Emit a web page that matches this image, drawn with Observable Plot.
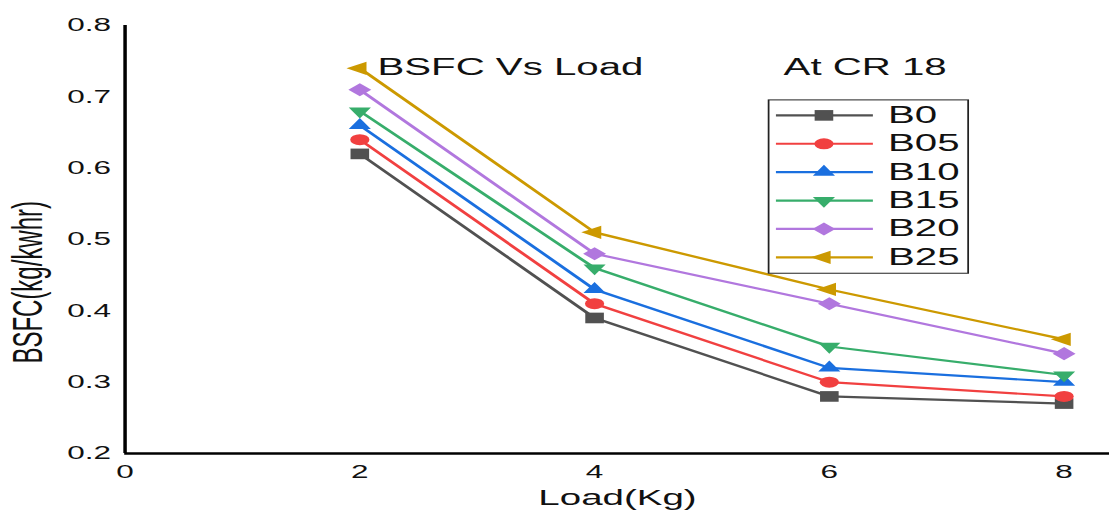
<!DOCTYPE html>
<html><head><meta charset="utf-8">
<script src="https://cdn.jsdelivr.net/npm/d3@7"></script>
<script src="https://cdn.jsdelivr.net/npm/@observablehq/plot@0.6"></script>
<style>
html,body{margin:0;padding:0;background:#fff;}
#chart{width:1109px;height:515px;overflow:hidden;}
</style>
</head><body><div id="chart"></div>
<script>
// ---- data ----
const loads = [2, 4, 6, 8];
const seriesNames = ["B0", "B05", "B10", "B15", "B20", "B25"];
const B0  = [0.62, 0.39, 0.28, 0.27];
const B05 = [0.64, 0.41, 0.30, 0.28];
const B10 = [0.66, 0.43, 0.32, 0.30];
const B15 = [0.68, 0.46, 0.35, 0.31];
const B20 = [0.71, 0.48, 0.41, 0.34];
const B25 = [0.74, 0.51, 0.43, 0.36];
const xTicks = [0, 2, 4, 6, 8];
const yTicks = [0.2, 0.3, 0.4, 0.5, 0.6, 0.7, 0.8];
const titleText = "BSFC Vs Load";
const crText = "At CR 18";
const xLabel = "Load(Kg)";
const yLabel = "BSFC(kg/kwhr)";

// ---- styles ----
const colors = ["#515151", "#F14040", "#1A6FDF", "#37AD6B", "#B177DE", "#CC9900"];
const sqrt3 = Math.sqrt(3);
const triDown = {draw(ctx, size) { const y = -Math.sqrt(size / (sqrt3 * 3)); ctx.moveTo(0, -2 * y); ctx.lineTo(-sqrt3 * y, y); ctx.lineTo(sqrt3 * y, y); ctx.closePath(); }};
const triLeft = {draw(ctx, size) { const y = -Math.sqrt(size / (sqrt3 * 3)); ctx.moveTo(2 * y, 0); ctx.lineTo(-y, -sqrt3 * y); ctx.lineTo(-y, sqrt3 * y); ctx.closePath(); }};
const symbols = [d3.symbolSquare, d3.symbolCircle, d3.symbolTriangle, triDown, d3.symbolDiamond2, triLeft];
const markerR = [6, 5.5, 4.7, 4.7, 5.9, 4.9];

const seriesValues = [B0, B05, B10, B15, B20, B25];
const rows = seriesNames.flatMap((name, i) => loads.map((x, j) => ({series: name, i, x, y: seriesValues[i][j]})));

// in-plot annotations / legend layout (data units)
const annotations = [
  {x: 2.15, y: 0.741, text: titleText},
  {x: 5.61, y: 0.741, text: crText}
];
const legendBox = {x1: 5.49, x2: 7.19, y1: 0.452, y2: 0.695};
const legendRowTop = 0.674, legendRowStep = 0.0398;
const legendLineX = [5.545, 6.371], legendMarkX = 5.954, legendTextX = 6.50;
const legendRows = seriesNames.map((name, i) => ({name, i, y: legendRowTop - i * legendRowStep}));

const FONT = "'Liberation Sans', Arial, Helvetica, sans-serif";
const W = 634, H = 515;

const marks = [];
seriesNames.forEach((name, i) => {
  const d = rows.filter(r => r.i === i);
  marks.push(Plot.line(d, {x: "x", y: "y", stroke: colors[i], strokeWidth: 2.2}));
  marks.push(Plot.dot(d, {x: "x", y: "y", fill: colors[i], stroke: "none", symbol: symbols[i], r: markerR[i]}));
});
// legend
marks.push(Plot.rect([legendBox], {x1: "x1", x2: "x2", y1: "y1", y2: "y2", fill: "white", stroke: "#222", strokeWidth: 1}));
legendRows.forEach(row => {
  marks.push(Plot.link([row], {x1: legendLineX[0], x2: legendLineX[1], y1: "y", y2: "y", stroke: colors[row.i], strokeWidth: 2.2}));
  marks.push(Plot.dot([row], {x: legendMarkX, y: "y", fill: colors[row.i], stroke: "none", symbol: symbols[row.i], r: markerR[row.i]}));
});
marks.push(Plot.text(legendRows, {x: legendTextX, y: "y", text: "name", textAnchor: "start", lineAnchor: "middle", fontSize: 23, fill: "#111"}));
marks.push(Plot.text(annotations, {x: "x", y: "y", text: "text", textAnchor: "start", lineAnchor: "middle", fontSize: 23, fill: "#111"}));
// axis titles
marks.push(Plot.text([xLabel], {frameAnchor: "bottom", text: d => d, dy: 44, fontSize: 22, lineAnchor: "middle", fill: "#111"}));
marks.push(Plot.text([yLabel], {x: -0.82, y: 0.44, text: d => d, rotate: -90, fontSize: 24, lineAnchor: "middle", fill: "#111"}));
// axes
marks.push(Plot.axisX({ticks: xTicks, tickSize: 0, tickPadding: 12, label: null, tickFormat: d3.format("d"), fontSize: 18}));
marks.push(Plot.axisY({ticks: yTicks, tickSize: 0, tickPadding: 8, label: null, tickFormat: d3.format(".1f"), fontSize: 18}));
marks.push(Plot.ruleX([0], {stroke: "#000", strokeWidth: 2}));
marks.push(Plot.ruleY([0.2], {stroke: "#000", strokeWidth: 2.5}));

const svg = Plot.plot({
  width: W, height: H,
  marginLeft: 71, marginRight: 0, marginTop: 25, marginBottom: 62,
  x: {domain: [0, 8.39]},
  y: {domain: [0.2, 0.8]},
  style: {fontFamily: FONT, fontSize: "18px", color: "#111", background: "white"},
  marks
});
svg.setAttribute("preserveAspectRatio", "none");
svg.style.width = "1109px";
svg.style.height = "515px";
svg.style.maxWidth = "none";
document.getElementById("chart").appendChild(svg);
</script>
</body></html>
